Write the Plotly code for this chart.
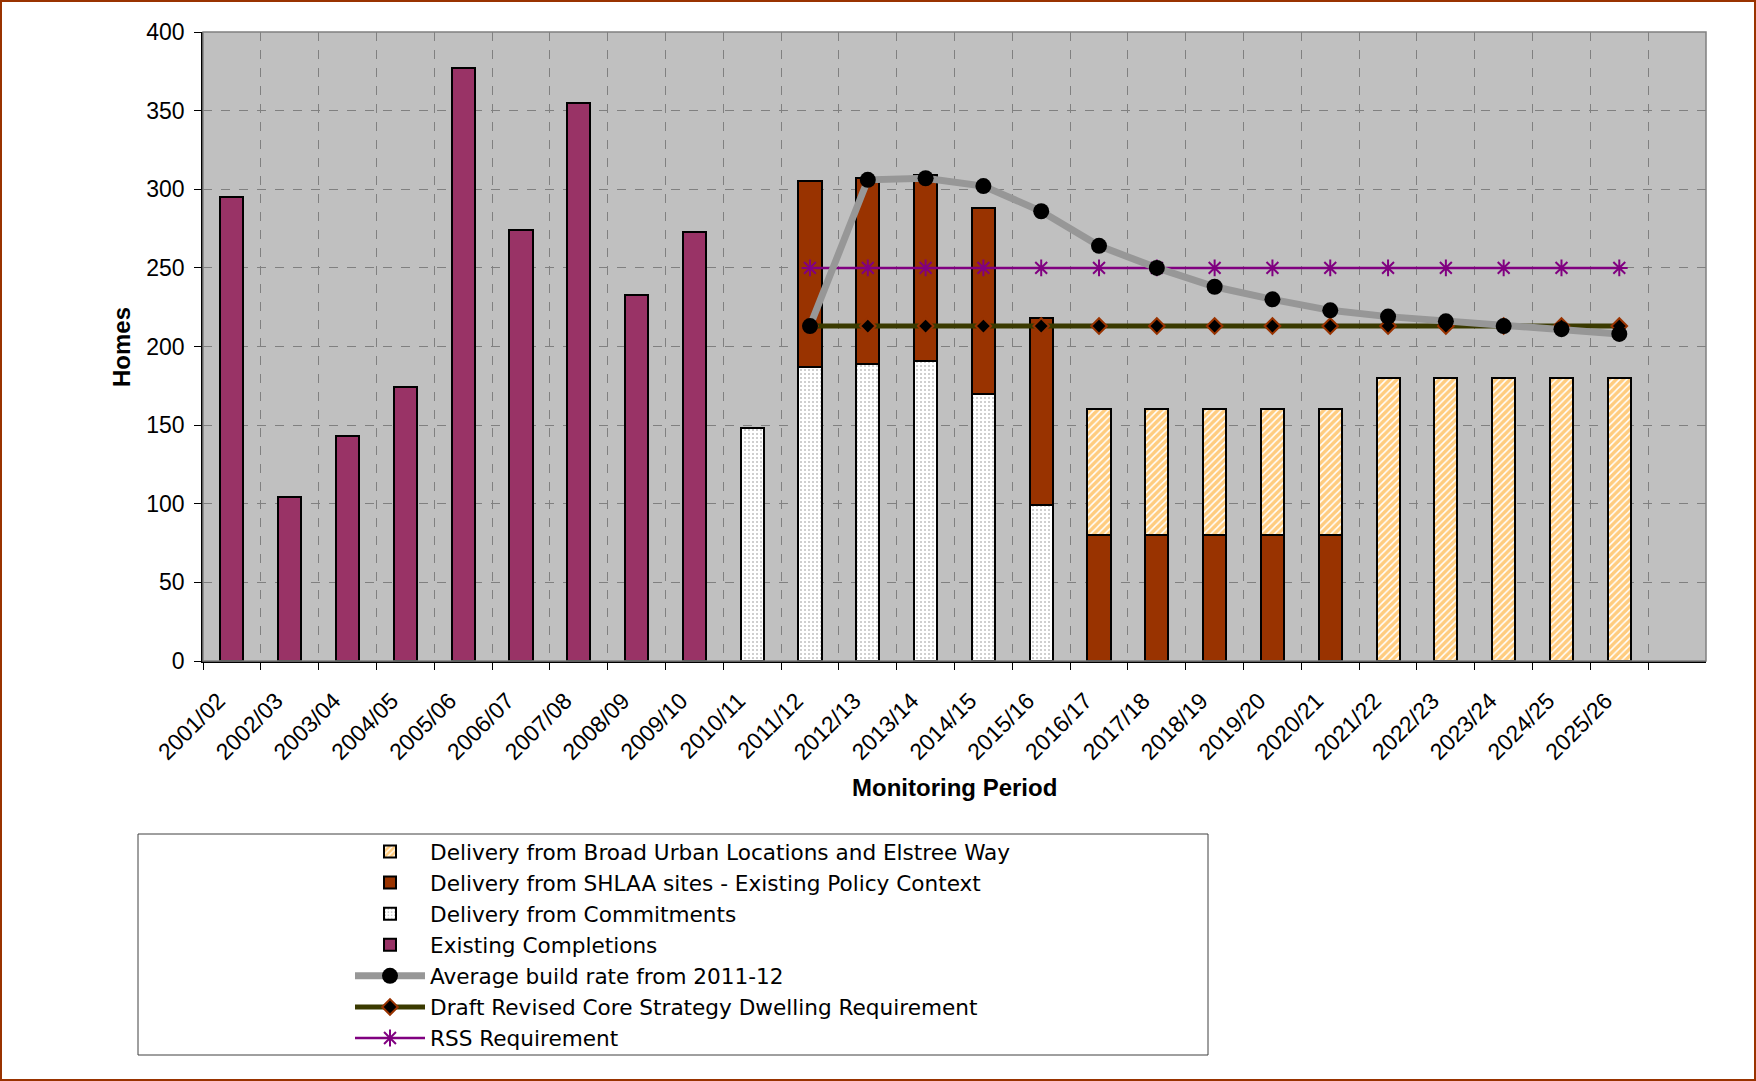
import plotly.graph_objects as go

categories = ["2001/02", "2002/03", "2003/04", "2004/05", "2005/06", "2006/07", "2007/08",
              "2008/09", "2009/10", "2010/11", "2011/12", "2012/13", "2013/14", "2014/15",
              "2015/16", "2016/17", "2017/18", "2018/19", "2019/20", "2020/21", "2021/22",
              "2022/23", "2023/24", "2024/25", "2025/26"]

existing = [295, 104, 143, 174, 377, 274, 355, 233, 273] + [None] * 16
commitments = [None] * 9 + [148, 187, 189, 191, 170, 99] + [None] * 10
shlaa = [None] * 10 + [118, 118, 118, 118, 119] + [80, 80, 80, 80, 80] + [None] * 5
broad = [None] * 15 + [80, 80, 80, 80, 80] + [180, 180, 180, 180, 180]

avg_rate = [None] * 10 + [213, 306, 307, 302, 286, 264, 250, 238, 230, 223, 219, 216, 213, 211, 208]
draft_req = [None] * 10 + [213] * 15
rss_req = [None] * 10 + [250] * 15

FONT = "Liberation Sans, Arial, sans-serif"
LEG_FONT = "DejaVu Sans, Liberation Sans, sans-serif"
W, H = 1756, 1081
L, R, T, B = 203, 50, 32, 420
PW, PH = W - L - R, H - T - B


def px_x(x):
    return (x - L) / PW


def px_y(y):
    return (H - B - y) / PH


fig = go.Figure()
bar_line = dict(color="black", width=2)

fig.add_trace(go.Bar(x=categories, y=existing, name="Existing Completions", width=0.4,
                     marker=dict(color="#993366", line=bar_line), legendrank=4))
fig.add_trace(go.Bar(x=categories, y=commitments, name="Delivery from Commitments", width=0.4,
                     marker=dict(color="white", line=bar_line,
                                 pattern=dict(shape=".", fgcolor="#808080", bgcolor="white",
                                              size=4, solidity=0.2)), legendrank=3))
fig.add_trace(go.Bar(x=categories, y=shlaa, name="Delivery from SHLAA sites - Existing Policy Context",
                     width=0.4, marker=dict(color="#993300", line=bar_line), legendrank=2))
fig.add_trace(go.Bar(x=categories, y=broad, name="Delivery from Broad Urban Locations and Elstree Way",
                     width=0.4,
                     marker=dict(color="white", line=bar_line,
                                 pattern=dict(shape="/", fgcolor="#FF9900", bgcolor="white",
                                              size=5, solidity=0.7)), legendrank=1))

fig.add_trace(go.Scatter(x=categories, y=draft_req, name="Draft Revised Core Strategy Dwelling Requirement",
                         mode="lines+markers", line=dict(color="#3a3a00", width=5),
                         marker=dict(symbol="diamond", size=12, color="black",
                                     line=dict(color="#993300", width=2)), legendrank=6))
fig.add_trace(go.Scatter(x=categories, y=rss_req, name="RSS Requirement",
                         mode="lines+markers", line=dict(color="#800080", width=2.5),
                         marker=dict(symbol="asterisk-open", size=14, color="#800080",
                                     line=dict(color="#800080", width=2)), legendrank=7))
fig.add_trace(go.Scatter(x=categories, y=avg_rate, name="Average build rate from 2011-12",
                         mode="lines+markers", line=dict(color="#979797", width=7),
                         marker=dict(symbol="circle", size=16, color="black",
                                     line=dict(color="black", width=0)), legendrank=5))

shapes = [
    # legend box
    dict(type="rect", xref="paper", yref="paper", x0=px_x(138), x1=px_x(1208),
         y0=px_y(1055), y1=px_y(834), line=dict(color="#404040", width=1), fillcolor="white",
         layer="below"),
    # plot frame top/right
    dict(type="rect", xref="paper", yref="paper", x0=0, x1=1, y0=0, y1=1,
         line=dict(color="#808080", width=1.5)),
    # outer border
    dict(type="rect", xref="paper", yref="paper", x0=px_x(1), x1=px_x(W - 1),
         y0=px_y(H - 1), y1=px_y(1), line=dict(color="#993300", width=2)),
]

annotations = [
    dict(text="<b>Homes</b>", xref="paper", yref="paper", x=px_x(121), y=px_y(347),
         showarrow=False, textangle=-90, font=dict(family=FONT, size=24, color="black"),
         xanchor="center", yanchor="middle"),
    dict(text="<b>Monitoring Period</b>", xref="paper", yref="paper", x=px_x(954), y=px_y(787),
         showarrow=False, font=dict(family=FONT, size=24, color="black"),
         xanchor="center", yanchor="middle"),
]

fig.update_layout(
    width=W, height=H,
    autosize=False,
    margin=dict(l=L, r=R, t=T, b=B),
    barmode="stack",
    paper_bgcolor="white",
    plot_bgcolor="#C0C0C0",
    font=dict(family=FONT, size=23, color="black"),
    showlegend=True,
    legend=dict(x=px_x(350), y=px_y(831), xanchor="left", yanchor="top",
                bgcolor="rgba(0,0,0,0)", borderwidth=0, traceorder="normal",
                font=dict(family=LEG_FONT, size=21.6, color="black"),
                itemwidth=70, tracegroupgap=0),
    shapes=shapes,
    annotations=annotations,
)

fig.update_xaxes(
    type="category", categoryorder="array", categoryarray=categories,
    tickmode="array", tickvals=categories,
    ticktext=[c + "\u00a0\u00a0\u00a0" for c in categories],
    range=[-0.5, 25.5], tickson="boundaries", ticks="outside", ticklen=7,
    tickcolor="black", tickangle=-45, showline=True, linecolor="black", linewidth=1.5,
    showgrid=True, gridcolor="#808080", griddash="dash", gridwidth=1,
    tickfont=dict(family=FONT, size=23, color="black"), ticklabelstandoff=2,
)
fig.update_yaxes(
    range=[0, 400], dtick=50, ticks="outside", ticklen=7, tickcolor="black",
    showline=True, linecolor="black", linewidth=1.5,
    showgrid=True, gridcolor="#808080", griddash="dash", gridwidth=1,
    zeroline=False, tickfont=dict(family=FONT, size=23, color="black"),
    ticklabelstandoff=5,
)

fig.write_html(
    "out.html",
    config={"responsive": False, "displayModeBar": False},
    post_script="document.body.style.margin='0';document.body.style.padding='0';",
)
